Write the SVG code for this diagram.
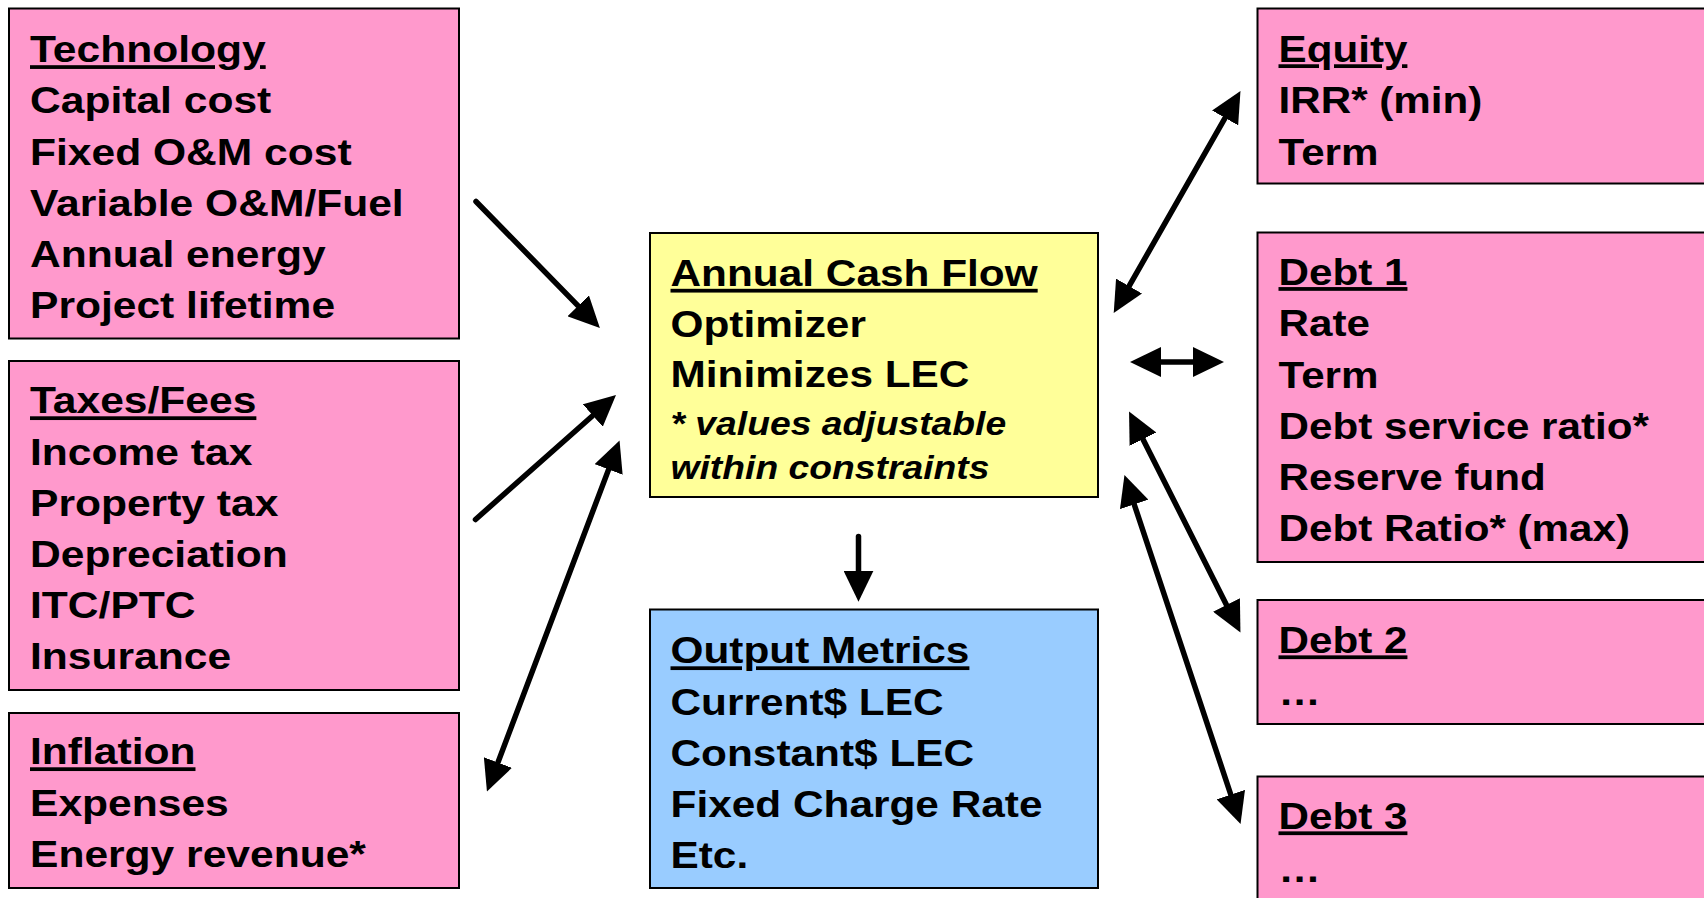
<svg xmlns="http://www.w3.org/2000/svg" width="1704" height="898" viewBox="0 0 1704 898">
  <style>
    .box { stroke: #000; stroke-width: 2; }
    .pink { fill: #FF99CC; }
    .yellow { fill: #FFFF99; }
    .blue { fill: #99CCFF; }
    .t { font-family: "Liberation Sans", Arial, sans-serif; font-weight: bold; font-size: 37.5px; fill: #000; }
    .it { font-family: "Liberation Sans", Arial, sans-serif; font-weight: bold; font-style: italic; font-size: 33px; fill: #000; }
    .u { text-decoration: underline; }
    .conn { stroke: #000; stroke-width: 5.5; fill: none; stroke-linecap: round; }
  </style>
  <defs>
    <marker id="ah" viewBox="0 0 31 30" refX="2" refY="15" markerWidth="31" markerHeight="30" markerUnits="userSpaceOnUse" orient="auto-start-reverse">
      <path d="M0,0 L31,15 L0,30 Z" fill="#000"/>
    </marker>
  </defs>
  <rect x="0" y="0" width="1704" height="898" fill="#FFFFFF"/>

  <g id="technology">
    <rect class="box pink" x="9" y="8.5" width="450" height="330"/>
    <g transform="translate(30,0) scale(1.135,1)">
      <text class="t">
        <tspan x="0" y="62.4" class="u">Technology</tspan>
        <tspan x="0" y="113.5">Capital cost</tspan>
        <tspan x="0" y="164.6">Fixed O&amp;M cost</tspan>
        <tspan x="0" y="215.7">Variable O&amp;M/Fuel</tspan>
        <tspan x="0" y="266.8">Annual energy</tspan>
        <tspan x="0" y="317.9">Project lifetime</tspan>
      </text>
    </g>
  </g>

  <g id="taxes">
    <rect class="box pink" x="9" y="361" width="450" height="329"/>
    <g transform="translate(30,0) scale(1.135,1)">
      <text class="t">
        <tspan x="0" y="413.5" class="u">Taxes/Fees</tspan>
        <tspan x="0" y="464.7">Income tax</tspan>
        <tspan x="0" y="515.9">Property tax</tspan>
        <tspan x="0" y="567.1">Depreciation</tspan>
        <tspan x="0" y="618.3">ITC/PTC</tspan>
        <tspan x="0" y="669.5">Insurance</tspan>
      </text>
    </g>
  </g>

  <g id="inflation">
    <rect class="box pink" x="9" y="713" width="450" height="175"/>
    <g transform="translate(30,0) scale(1.135,1)">
      <text class="t">
        <tspan x="0" y="764.5" class="u">Inflation</tspan>
        <tspan x="0" y="816">Expenses</tspan>
        <tspan x="0" y="867.3">Energy revenue*</tspan>
      </text>
    </g>
  </g>

  <g id="cashflow">
    <rect class="box yellow" x="650" y="233" width="448" height="264"/>
    <g transform="translate(670.5,0) scale(1.13,1)">
      <text class="t">
        <tspan x="0" y="286" class="u">Annual Cash Flow</tspan>
        <tspan x="0" y="337">Optimizer</tspan>
        <tspan x="0" y="387.5">Minimizes LEC</tspan>
      </text>
      <text class="it">
        <tspan x="0" y="435">* values adjustable</tspan>
        <tspan x="0" y="479">within constraints</tspan>
      </text>
    </g>
  </g>

  <g id="output">
    <rect class="box blue" x="650" y="609.5" width="448" height="278.5"/>
    <g transform="translate(670.5,0) scale(1.13,1)">
      <text class="t">
        <tspan x="0" y="663.5" class="u">Output Metrics</tspan>
        <tspan x="0" y="714.7">Current$ LEC</tspan>
        <tspan x="0" y="765.9">Constant$ LEC</tspan>
        <tspan x="0" y="817.1">Fixed Charge Rate</tspan>
        <tspan x="0" y="868.3">Etc.</tspan>
      </text>
    </g>
  </g>

  <g id="equity">
    <rect class="box pink" x="1257.5" y="8.5" width="500" height="175"/>
    <g transform="translate(1278.5,0) scale(1.125,1)">
      <text class="t">
        <tspan x="0" y="62.4" class="u">Equity</tspan>
        <tspan x="0" y="113.5">IRR* (min)</tspan>
        <tspan x="0" y="164.6">Term</tspan>
      </text>
    </g>
  </g>

  <g id="debt1">
    <rect class="box pink" x="1257.5" y="232.5" width="500" height="329.5"/>
    <g transform="translate(1278.5,0) scale(1.125,1)">
      <text class="t">
        <tspan x="0" y="285.2" class="u">Debt 1</tspan>
        <tspan x="0" y="336.4">Rate</tspan>
        <tspan x="0" y="387.6">Term</tspan>
        <tspan x="0" y="438.8">Debt service ratio*</tspan>
        <tspan x="0" y="490">Reserve fund</tspan>
        <tspan x="0" y="541.2">Debt Ratio* (max)</tspan>
      </text>
    </g>
  </g>

  <g id="debt2">
    <rect class="box pink" x="1257.5" y="600" width="500" height="124"/>
    <g transform="translate(1278.5,0) scale(1.125,1)">
      <text class="t">
        <tspan x="0" y="653.5" class="u">Debt 2</tspan>
        <tspan x="0" y="705.5">…</tspan>
      </text>
    </g>
  </g>

  <g id="debt3">
    <rect class="box pink" x="1257.5" y="776.5" width="500" height="140"/>
    <g transform="translate(1278.5,0) scale(1.125,1)">
      <text class="t">
        <tspan x="0" y="829.5" class="u">Debt 3</tspan>
        <tspan x="0" y="882">…</tspan>
      </text>
    </g>
  </g>

  <g id="connectors">
    <line class="conn" x1="476" y1="201.5" x2="579.6" y2="307.3" marker-end="url(#ah)"/>
    <line class="conn" x1="475.5" y1="519.5" x2="594.3" y2="414.2" marker-end="url(#ah)"/>
    <line class="conn" x1="497.2" y1="764.4" x2="609.3" y2="467.6" marker-start="url(#ah)" marker-end="url(#ah)"/>
    <line class="conn" x1="858.5" y1="536.5" x2="858.5" y2="572.7" marker-end="url(#ah)"/>
    <line class="conn" x1="1128.1" y1="287.8" x2="1226.1" y2="116.2" marker-start="url(#ah)" marker-end="url(#ah)"/>
    <line class="conn" x1="1159" y1="362" x2="1195" y2="362" marker-start="url(#ah)" marker-end="url(#ah)"/>
    <line class="conn" x1="1142.1" y1="437.4" x2="1227.4" y2="606.7" marker-start="url(#ah)" marker-end="url(#ah)"/>
    <line class="conn" x1="1133.6" y1="502.5" x2="1231.4" y2="796.5" marker-start="url(#ah)" marker-end="url(#ah)"/>
  </g>
</svg>
